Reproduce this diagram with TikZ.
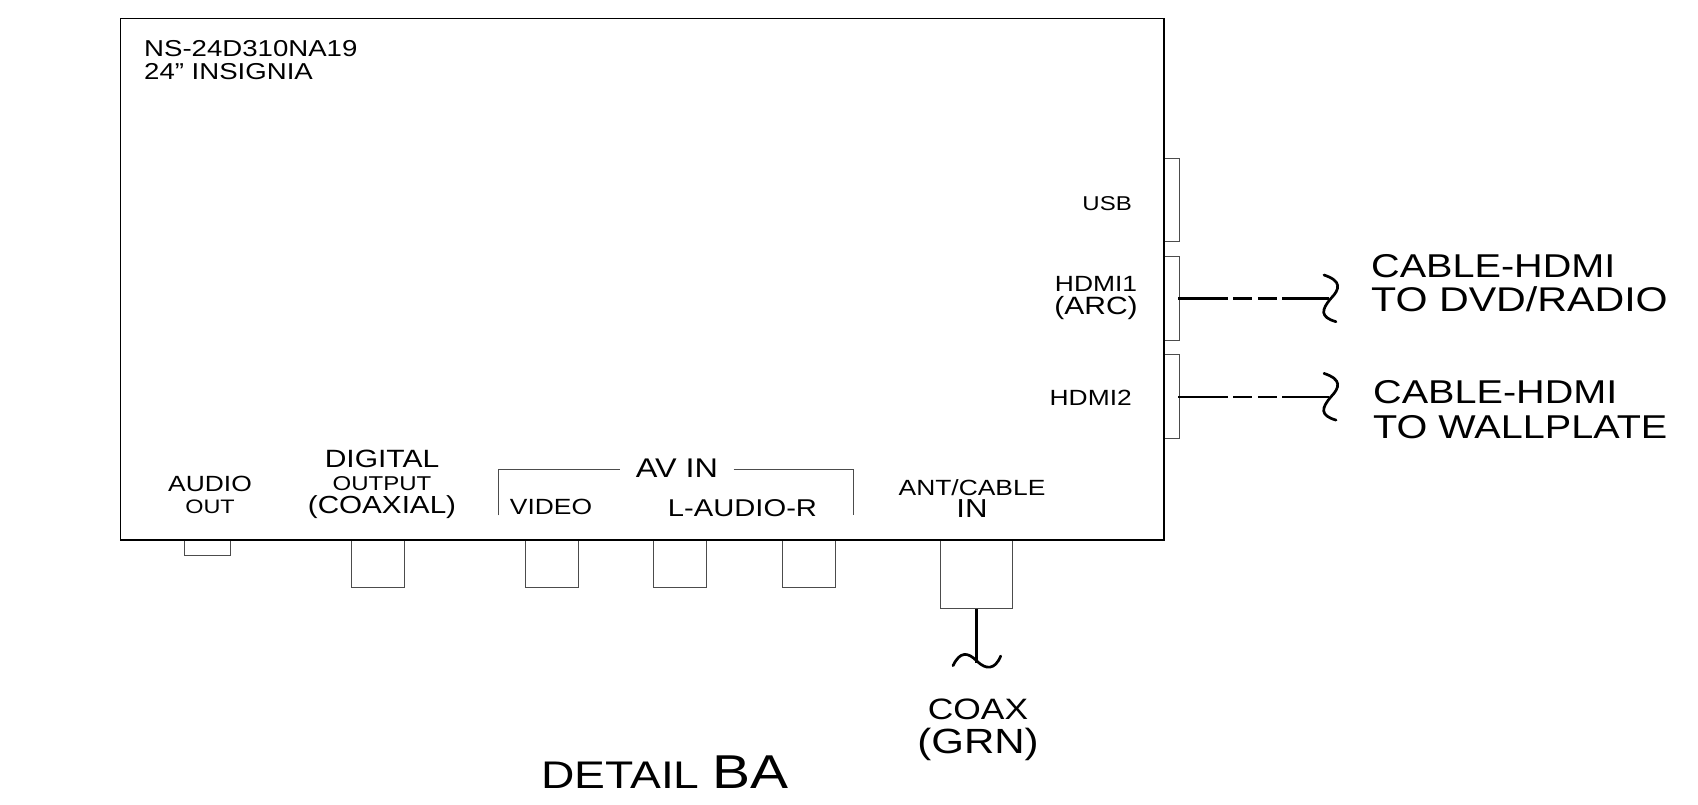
\documentclass[tikz,border=0pt]{standalone}
\usepackage{fontspec}
\setmainfont[FakeStretch=1.2]{Liberation Sans}
\newcommand{\sz}[1]{\fontsize{#1}{22.7}\selectfont}
\tikzset{
	port/.style={draw=black!70, line width=1pt, inner sep=0pt},
	label/.style={font=\sz{22}, align=center},
	biglabel/.style={font=\fontsize{33}{34.6}\selectfont, align=left, anchor=west},
	cable/.style={line width=2.6pt},
	cabledash/.style={cable, dash pattern=on 50pt off 5pt on 19pt off 5.5pt on 19.5pt off 5pt on 60pt},
	wave/.style={line width=2.7pt, line cap=round}
}
\begin{document}
\begin{tikzpicture}[x=1pt, y=-1pt, inner sep=0pt]
	\useasboundingbox (0, 0) rectangle (1698, 804);

		\node (usb)     [port, minimum width=15.5pt, minimum height=83.5pt] at (1171.7, 200) {};
		\node (hdmione) [port, minimum width=15.5pt, minimum height=83.5pt] at (1171.7, 298.3) {};
		\node (hdmitwo) [port, minimum width=15.5pt, minimum height=83.5pt] at (1171.7, 396.7) {};
		\node (audio)   [port, minimum width=45.5pt, minimum height=15.7pt] at (207.7, 547.8) {};
		\node (digital) [port, minimum width=53pt, minimum height=47pt] at (377.8, 563.5) {};
		\node (video)   [port, minimum width=53pt, minimum height=47pt] at (551.6, 563.5) {};
		\node (left)    [port, minimum width=53pt, minimum height=47pt] at (680, 563.5) {};
		\node (right)   [port, minimum width=53pt, minimum height=47pt] at (808.7, 563.5) {};
		\node (ant)     [port, minimum width=72pt, minimum height=68pt] at (976.8, 574) {};
		\node (panel)   [draw, line width=1.1pt, minimum width=1043.5pt, minimum height=521.5pt] at (642.2, 279.2) {};

		\node (model)   [label, align=left, anchor=west, font=\sz{23}] at (144, 60) {NS-24D310NA19\\24\symbol{34} INSIGNIA};
		\node (usbtxt)  [label, anchor=east, font=\sz{20}] at (1132, 203.6) {USB};
		\node (hdmi1)   [label] at (1096, 298) {HDMI1\\\sz{25}(ARC)};
		\node (hdmi2)   [label, anchor=east] at (1132, 397.5) {HDMI2};
		\node (audiot)  [label] at (210, 495) {AUDIO\\\sz{19.5}OUT};
		\node (digitalt) [label] at (382, 484.5) {\sz{25}DIGITAL\\\sz{20}OUTPUT\\\sz{24.7}(COAXIAL)};
		\node (avin)    [label, font=\sz{27}] at (677, 468) {AV IN};
		\node (videot)  [label] at (551, 507) {VIDEO};
		\node (lraudio) [label, font=\sz{24.3}] at (742.5, 508) {L-AUDIO-R};
		\node (antt)    [label] at (972, 498.5) {ANT/CABLE\\\sz{26}IN};
		\node (cableone) [biglabel] at (1371, 283) {CABLE-HDMI\\\fontsize{34.3}{34.6}\selectfont TO DVD/RADIO};
		\node (cabletwo) [biglabel] at (1373, 409.5) {CABLE-HDMI\\TO WALLPLATE};
		\node (coax)    [label, font=\fontsize{29.5}{33.5}\selectfont] at (978, 730) {COAX\\\fontsize{35}{33.5}\selectfont(GRN)};
		\node (detail)  [anchor=base west, font=\fontsize{38.5}{38}\selectfont] at (541, 788) {DETAIL \fontsize{47.5}{48}\selectfont BA};

		\coordinate (breakone) at (1329, 298.3);
		\coordinate (breaktwo) at (1329, 396.7);
		\coordinate (breakant) at (976.8, 663);

		\draw[cabledash] (hdmione.east) ++(-1.5, 0) -- (breakone);
		\draw[cabledash, line width=2.2pt] (hdmitwo.east) ++(-1.5, 0) -- (breaktwo);
		\draw[cable, line width=3.2pt] (ant.south) -- (breakant);

		\draw[wave] (1324, 275) .. controls (1342, 281) and (1340, 289) .. (1331, 298.3) .. controls (1321, 310) and (1320, 317) .. (1336, 321.7);
		\draw[wave] (1324, 373.4) .. controls (1342, 379.4) and (1340, 387.4) .. (1331, 396.7) .. controls (1321, 408.4) and (1320, 415.4) .. (1336, 420.1);
		\draw[wave] (953, 665.7) .. controls (960, 651) and (968, 652) .. (976.8, 661) .. controls (986, 670) and (995, 670) .. (1000.7, 656);

		\draw[draw=black!70, line width=1pt] (498.8, 515.3) -- (498.8, 469.3) -- (620, 469.3);
		\draw[draw=black!70, line width=1pt] (733.5, 469.3) -- (853.4, 469.3) -- (853.4, 515.3);
	\end{tikzpicture}
\end{document}
